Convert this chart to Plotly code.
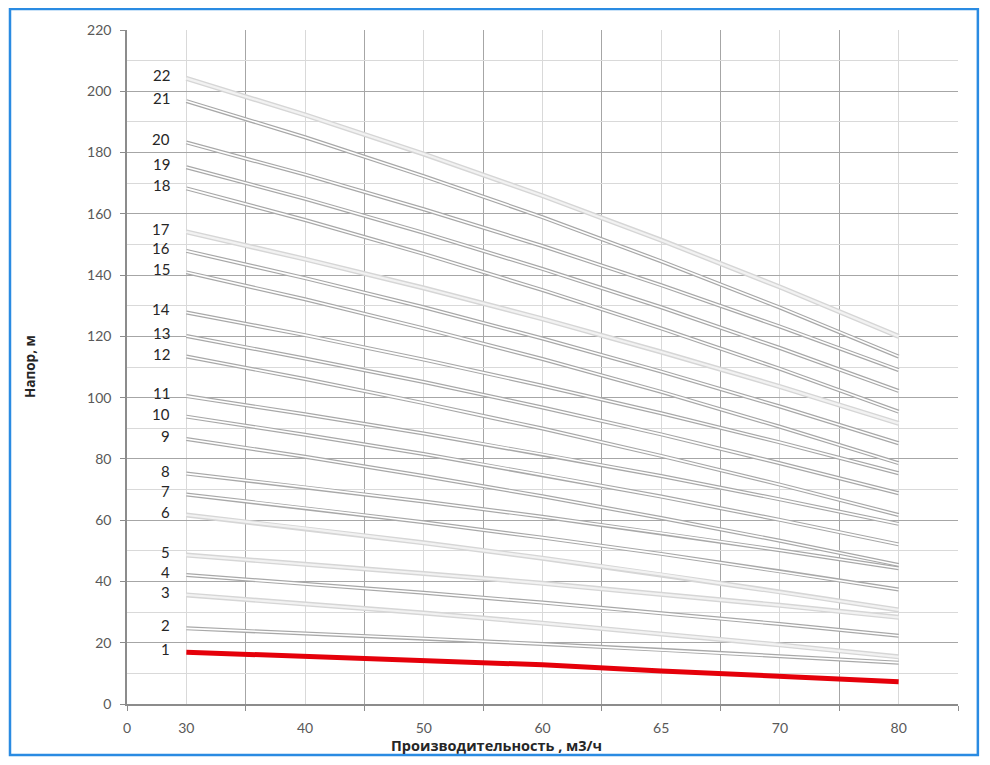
import plotly.graph_objects as go

# ---------------- data ----------------
flow = [30, 40, 50, 60, 65, 70, 80]                      # м3/ч (category axis)
x_tick_text = ["0", "30", "40", "50", "60", "65", "70", "80"]
y_ticks = [0, 20, 40, 60, 80, 100, 120, 140, 160, 180, 200, 220]

stage_01 = [16.9, 15.5, 14.1, 12.8, 10.8, 9.1, 7.3]
stage_02 = [24.7, 23.1, 21.4, 19.6, 17.7, 15.6, 13.5]
stage_03 = [35.6, 32.7, 29.7, 26.4, 22.9, 19.3, 15.4]
stage_04 = [42.1, 39.3, 36.3, 33.1, 29.7, 26.1, 22.3]
stage_05 = [48.6, 45.7, 42.6, 39.4, 35.9, 32.2, 28.3]
stage_06 = [61.7, 57.3, 52.6, 47.6, 42.3, 36.6, 30.7]
stage_07 = [68.4, 64.0, 59.3, 54.3, 49.0, 43.3, 37.4]
stage_08 = [75.2, 70.8, 66.1, 61.1, 55.8, 50.2, 44.3]
stage_09 = [86.5, 80.7, 74.4, 67.8, 60.7, 53.3, 45.4]
stage_10 = [93.8, 87.9, 81.6, 74.8, 67.7, 60.1, 52.1]
stage_11 = [100.5, 94.6, 88.3, 81.5, 74.4, 66.8, 58.8]
stage_12 = [113.4, 106.1, 98.2, 89.9, 81.0, 71.6, 61.7]
stage_13 = [120.1, 112.8, 105.1, 96.8, 88.0, 78.6, 68.8]
stage_14 = [127.8, 120.4, 112.4, 103.9, 94.9, 85.4, 75.3]
stage_15 = [140.9, 132.1, 122.6, 112.6, 101.9, 90.5, 78.6]
stage_16 = [147.9, 139.0, 129.5, 119.3, 108.5, 97.1, 85.1]
stage_17 = [154.1, 145.2, 135.8, 125.7, 114.9, 103.6, 91.6]
stage_18 = [168.3, 158.0, 146.9, 135.1, 122.6, 109.4, 95.4]
stage_19 = [175.2, 164.9, 153.8, 142.0, 129.5, 116.2, 102.2]
stage_20 = [183.3, 172.8, 161.5, 149.5, 136.7, 123.2, 109.0]
stage_21 = [196.8, 185.0, 172.3, 158.9, 144.5, 129.4, 113.4]
stage_22 = [204.2, 192.3, 179.5, 165.9, 151.4, 136.1, 120.0]

stages = [stage_01, stage_02, stage_03, stage_04, stage_05, stage_06, stage_07,
          stage_08, stage_09, stage_10, stage_11, stage_12, stage_13, stage_14,
          stage_15, stage_16, stage_17, stage_18, stage_19, stage_20, stage_21,
          stage_22]
light_stages = {3, 5, 6, 17, 22}

# ---------------- figure ----------------
# category positions: each flow value sits in the middle of a 2-unit category slot
x_pos = [2 * i + 1 for i in range(len(flow))]
x_tickvals = [0] + x_pos
x_minor = list(range(0, 2 * len(flow) + 1, 2))

fig = go.Figure()
for n, heads in enumerate(stages, start=1):
    if n == 1:
        fig.add_trace(go.Scatter(x=x_pos, y=heads, mode="lines",
                                 line=dict(color="#E5000A", width=5),
                                 hoverinfo="skip", showlegend=False))
        continue
    if n in light_stages:
        outer, inner, wo, wi = "#D6D6D6", "#F2F2F2", 5, 2.2
    else:
        outer, inner, wo, wi = "#A8A8A8", "#FFFFFF", 4, 1.6
    fig.add_trace(go.Scatter(x=x_pos, y=heads, mode="lines",
                             line=dict(color=outer, width=wo),
                             hoverinfo="skip", showlegend=False))
    fig.add_trace(go.Scatter(x=x_pos, y=heads, mode="lines",
                             line=dict(color=inner, width=wi),
                             hoverinfo="skip", showlegend=False))

annotations = []
for n, heads in enumerate(stages, start=1):
    annotations.append(dict(x=x_pos[0], y=heads[0], xref="x", yref="y",
                            text=str(n), showarrow=False, xanchor="right",
                            yanchor="middle", xshift=-14, yshift=3,
                            font=dict(family="Lato, Noto Sans, sans-serif",
                                      size=15, color="#262626")))

annotations.append(dict(x=-0.1167, y=0.5, xref="paper", yref="paper",
                        text="<b>Напор, м</b>", showarrow=False, textangle=-90,
                        xanchor="center", yanchor="middle",
                        font=dict(family="Open Sans, Noto Sans, sans-serif",
                                  size=13.5, color="#262626")))
annotations.append(dict(x=0.445, y=-0.061, xref="paper", yref="paper",
                        text="<b>Производительность , м3/ч</b>", showarrow=False,
                        xanchor="center", yanchor="middle",
                        font=dict(family="Open Sans, Noto Sans, sans-serif",
                                  size=14.5, color="#262626")))

fig.update_layout(
    width=974, height=749,
    margin=dict(l=119, r=24, t=22, b=53),
    paper_bgcolor="white", plot_bgcolor="white",
    showlegend=False,
    annotations=annotations,
    shapes=[dict(type="rect", xref="paper", yref="paper",
                 x0=-0.1408, x1=1.0239, y0=-0.0757, y1=1.0313,
                 line=dict(color="#2A8BE2", width=2.5), layer="above")],
    font=dict(family="Lato, Noto Sans, sans-serif", size=13, color="#595959"),
)

fig.update_xaxes(
    range=[0, 2 * len(flow)], tickmode="array",
    tickvals=x_tickvals, ticktext=x_tick_text,
    showgrid=True, gridcolor="#D9D9D9", gridwidth=1.3,
    ticks="", showline=True, linecolor="#8C8C8C", linewidth=1.5,
    zeroline=False, ticklabelstandoff=10,
    tickfont=dict(family="Lato, Noto Sans, sans-serif", size=14, color="#595959"),
    minor=dict(tickmode="array", tickvals=x_minor, showgrid=True,
               gridcolor="#A6A6A6", gridwidth=1.3, ticks="outside",
               ticklen=5, tickcolor="#8C8C8C", tickwidth=1.3),
)
fig.update_yaxes(
    range=[0, 220], tickmode="array", tickvals=y_ticks,
    showgrid=True, gridcolor="#A6A6A6", gridwidth=1.3,
    ticks="outside", ticklen=5, tickcolor="#8C8C8C", tickwidth=1.3,
    showline=True, linecolor="#8C8C8C", linewidth=1.5,
    zeroline=False, ticklabelstandoff=6,
    tickfont=dict(family="Lato, Noto Sans, sans-serif", size=14, color="#595959"),
    minor=dict(dtick=10, showgrid=True, gridcolor="#D9D9D9", gridwidth=1.3),
)

fig.write_html("out.html")
